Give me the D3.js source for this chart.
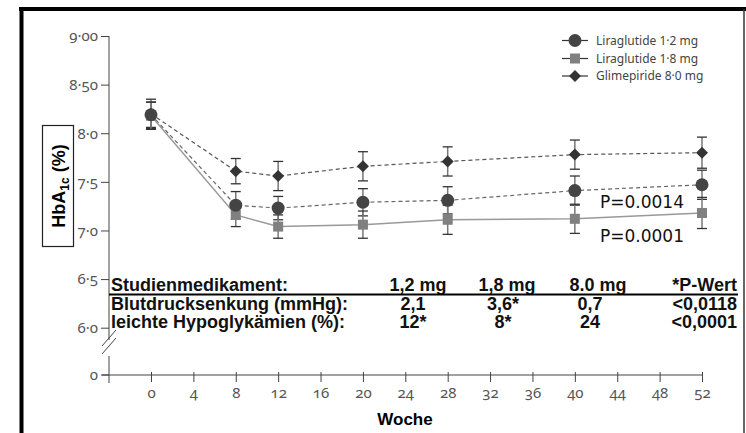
<!DOCTYPE html>
<html>
<head>
<meta charset="utf-8">
<script src="https://cdn.jsdelivr.net/npm/d3@7"></script>
<style>
  body { margin: 0; background: #fff; }
  svg { display: block; }
  .tick-label { font-family: "Noto Sans", sans-serif; font-size: 15px; fill: #555; font-feature-settings: "onum"; }
  .legend-label { font-family: "Noto Sans", sans-serif; font-size: 12px; fill: #444; }
  .tbl { font-family: "Liberation Sans", Arial, sans-serif; font-size: 18px; font-weight: bold; fill: #111; }
  .pval { font-family: "DejaVu Sans", sans-serif; font-size: 17px; fill: #111; }
</style>
</head>
<body>
<div id="chart"></div>
<script>
// HbA1c over 52 weeks, three treatment arms
const weeks = [0, 8, 12, 20, 28, 40, 52];

const lira12 = [8.19, 7.26, 7.23, 7.29, 7.31, 7.41, 7.47];
const lira12Err = [0.13, 0.14, 0.12, 0.14, 0.14, 0.15, 0.15];

const lira18 = [8.18, 7.16, 7.04, 7.06, 7.11, 7.12, 7.18];
const lira18Err = [0.14, 0.12, 0.12, 0.14, 0.15, 0.15, 0.16];

const glim = [8.20, 7.61, 7.56, 7.66, 7.71, 7.78, 7.80];
const glimErr = [0.15, 0.13, 0.15, 0.15, 0.15, 0.15, 0.16];

const yTicks = [9, 8.5, 8, 7.5, 7, 6.5, 6];
const yTickLabels = ['9·00', '8·50', '8·0', '7·5', '7·0', '6·5', '6·0'];
const xTicks = [0, 4, 8, 12, 16, 20, 24, 28, 32, 36, 40, 44, 48, 52];

const legendLabels = ['Liraglutide 1·2 mg', 'Liraglutide 1·8 mg', 'Glimepiride 8·0 mg'];
const pLabels = ['P=0.0014', 'P=0.0001'];

const tableHeader = ['Studienmedikament:', '1,2 mg', '1,8 mg', '8.0 mg', '*P-Wert'];
const tableRow1 = ['Blutdrucksenkung (mmHg):', '2,1', '3,6*', '0,7', '<0,0118'];
const tableRow2 = ['leichte Hypoglykämien (%):', '12*', '8*', '24', '<0,0001'];

const width = 746, height = 433;

const svg = d3.select('#chart').append('svg')
    .attr('width', width)
    .attr('height', height);

// outer frame (thick top/left, thin right)
svg.append('line').attr('x1', 19).attr('x2', width).attr('y1', 9).attr('y2', 9)
    .attr('stroke', '#000').attr('stroke-width', 4);
svg.append('line').attr('x1', 21.5).attr('x2', 21.5).attr('y1', 7).attr('y2', height)
    .attr('stroke', '#000').attr('stroke-width', 4);
svg.append('line').attr('x1', 744).attr('x2', 744).attr('y1', 9).attr('y2', height)
    .attr('stroke', '#333').attr('stroke-width', 1.5);

// scales
const x = d3.scaleLinear().domain([0, 52]).range([151, 702]);
const y = d3.scaleLinear().domain([6, 9]).range([327.7, 36]);
const yZero = 375;
const axisX = 109;

// y axis
const yAxis = svg.append('g')
    .attr('transform', `translate(${axisX},0)`)
    .call(d3.axisLeft(y).tickValues(yTicks).tickSize(8).tickPadding(3)
        .tickFormat((d, i) => yTickLabels[i]));
yAxis.select('.domain').remove();
yAxis.selectAll('.tick line').attr('stroke', '#444');
yAxis.selectAll('.tick text').attr('class', 'tick-label');

// y axis line with break
svg.append('line').attr('x1', axisX).attr('x2', axisX)
    .attr('y1', y(9)).attr('y2', 340).attr('stroke', '#444');
svg.append('line').attr('x1', axisX).attr('x2', axisX)
    .attr('y1', 356).attr('y2', yZero + 8).attr('stroke', '#444');
[0, 8].forEach(off => {
    svg.append('line')
        .attr('x1', axisX - 7).attr('y1', 346 + off)
        .attr('x2', axisX + 7).attr('y2', 330 + off)
        .attr('stroke', '#444').attr('stroke-width', 1);
});
// zero tick
svg.append('line').attr('x1', axisX - 8).attr('x2', axisX)
    .attr('y1', yZero).attr('y2', yZero).attr('stroke', '#444');
svg.append('text').attr('class', 'tick-label')
    .attr('x', axisX - 11).attr('y', yZero + 4.5)
    .attr('text-anchor', 'end').text('0');

// x axis
const xAxis = svg.append('g')
    .attr('transform', `translate(0,${yZero})`)
    .call(d3.axisBottom(x).tickValues(xTicks).tickSize(7).tickPadding(5));
xAxis.select('.domain').remove();
xAxis.selectAll('.tick line').attr('stroke', '#444').attr('y1', -3);
xAxis.selectAll('.tick text').attr('class', 'tick-label');
svg.append('line').attr('x1', 102).attr('x2', x(52))
    .attr('y1', yZero).attr('y2', yZero).attr('stroke', '#444');

svg.append('text')
    .attr('x', 405).attr('y', 425)
    .attr('text-anchor', 'middle')
    .style('font-family', '"Liberation Sans", Arial, sans-serif')
    .style('font-size', '17px').style('font-weight', 'bold')
    .text('Woche');

// y axis title box
svg.append('rect').attr('x', 42.5).attr('y', 125.5).attr('width', 31).attr('height', 121)
    .attr('fill', 'none').attr('stroke', '#222').attr('stroke-width', 1.2);
const yTitle = svg.append('text')
    .attr('transform', 'translate(65,186) rotate(-90)')
    .attr('text-anchor', 'middle')
    .style('font-family', '"Liberation Sans", Arial, sans-serif')
    .style('font-size', '18px').style('font-weight', 'bold');
yTitle.append('tspan').text('HbA');
yTitle.append('tspan').attr('dy', 4).style('font-size', '12px').text('1c');
yTitle.append('tspan').attr('dy', -4).text(' (%)');

// series
const series = [
    { vals: glim, err: glimErr, line: '#555', dash: '4,3', lw: 1.2, shape: 'diamond', fill: '#333' },
    { vals: lira12, err: lira12Err, line: '#666', dash: '4,3', lw: 1.2, shape: 'circle', fill: '#444' },
    { vals: lira18, err: lira18Err, line: '#999', dash: null, lw: 1.5, shape: 'square', fill: '#808080' }
];

const lineGen = d3.line().x((d, i) => x(weeks[i])).y(d => y(d));

series.forEach(s => {
    svg.append('path')
        .datum(s.vals)
        .attr('d', lineGen)
        .attr('fill', 'none')
        .attr('stroke', s.line)
        .attr('stroke-width', s.lw)
        .attr('stroke-dasharray', s.dash);
});

// error bars
series.forEach(s => {
    s.vals.forEach((v, i) => {
        const cx = x(weeks[i]);
        const top = y(v + s.err[i]), bot = y(v - s.err[i]);
        svg.append('line').attr('x1', cx).attr('x2', cx).attr('y1', top).attr('y2', bot)
            .attr('stroke', '#777').attr('stroke-width', 1.5);
        [top, bot].forEach(yy => {
            svg.append('line').attr('x1', cx - 5).attr('x2', cx + 5).attr('y1', yy).attr('y2', yy)
                .attr('stroke', '#333').attr('stroke-width', 1.3);
        });
    });
});

function drawMarker(g, shape, cx, cy, fill) {
    if (shape === 'circle') {
        g.append('circle').attr('cx', cx).attr('cy', cy).attr('r', 6.5).attr('fill', fill);
    } else if (shape === 'square') {
        g.append('rect').attr('x', cx - 5).attr('y', cy - 5).attr('width', 10).attr('height', 10).attr('fill', fill);
    } else {
        g.append('path')
            .attr('d', d3.symbol().type(d3.symbolSquare).size(72)())
            .attr('transform', `translate(${cx},${cy}) rotate(45)`)
            .attr('fill', fill);
    }
}

// markers (squares first, circles on top)
[series[2], series[0], series[1]].forEach(s => {
    s.vals.forEach((v, i) => drawMarker(svg, s.shape, x(weeks[i]), y(v), s.fill));
});

// legend
const legendShapes = [series[1], series[2], series[0]];
const legendY = [40.5, 58.5, 76];
legendShapes.forEach((s, i) => {
    svg.append('line').attr('x1', 562).attr('x2', 588)
        .attr('y1', legendY[i]).attr('y2', legendY[i])
        .attr('stroke', '#333').attr('stroke-width', 1.2);
    drawMarker(svg, s.shape, 575, legendY[i], s.fill);
    svg.append('text').attr('class', 'legend-label')
        .attr('x', 596).attr('y', legendY[i] + 4)
        .text(legendLabels[i]);
});

// p values
svg.append('text').attr('class', 'pval').attr('x', 600).attr('y', 208).text(pLabels[0]);
svg.append('text').attr('class', 'pval').attr('x', 600).attr('y', 242).text(pLabels[1]);

// table
const colX = [111, 418, 507, 598, 737];
const rowColX = [111, 413, 503, 590, 737];
const anchors = ['start', 'middle', 'middle', 'middle', 'end'];
const rowsY = [291, 309.5, 328];
[tableHeader, tableRow1, tableRow2].forEach((row, r) => {
    row.forEach((txt, c) => {
        svg.append('text').attr('class', 'tbl')
            .attr('x', r === 0 ? colX[c] : rowColX[c])
            .attr('y', rowsY[r])
            .attr('text-anchor', anchors[c])
            .text(txt);
    });
});
svg.append('line').attr('x1', axisX).attr('x2', 738).attr('y1', 294.5).attr('y2', 294.5)
    .attr('stroke', '#000').attr('stroke-width', 2);
</script>
</body>
</html>
